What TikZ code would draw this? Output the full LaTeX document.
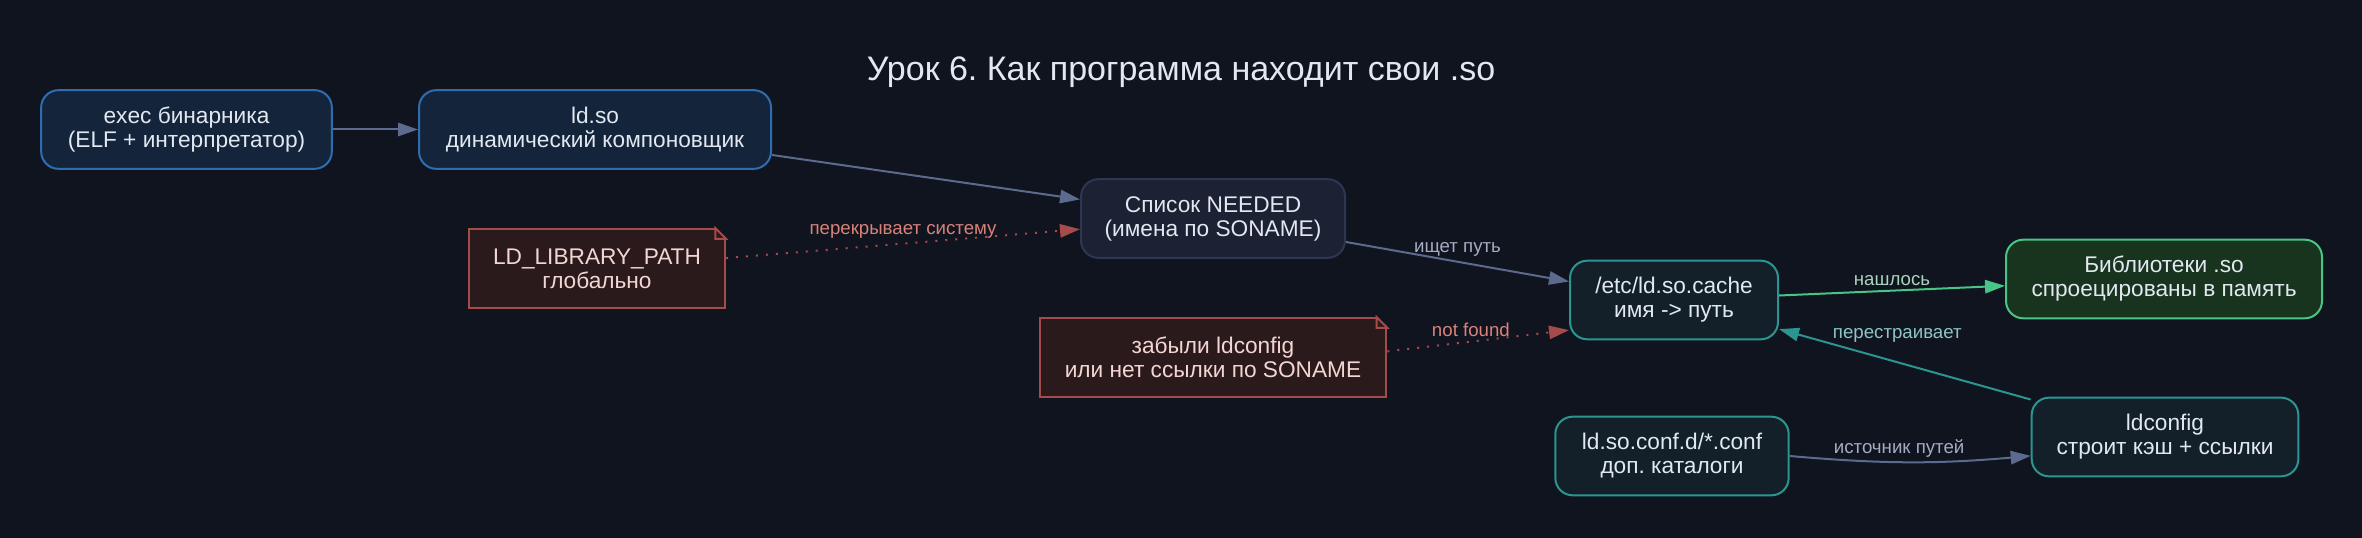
\documentclass[tikz,border=0pt]{standalone}
\usepackage{fontspec}
\setmainfont{Liberation Sans}
\usetikzlibrary{arrows.meta, positioning}
\frenchspacing

\definecolor{bg}{HTML}{10141F}
\definecolor{bluefill}{HTML}{14253B}
\definecolor{blueline}{HTML}{2F6DB0}
\definecolor{slatefill}{HTML}{1C2134}
\definecolor{slateline}{HTML}{2D3752}
\definecolor{redfill}{HTML}{2B1A1B}
\definecolor{redline}{HTML}{A54B4B}
\definecolor{tealfill}{HTML}{13202A}
\definecolor{tealline}{HTML}{2A9591}
\definecolor{greenfill}{HTML}{18341F}
\definecolor{greenline}{HTML}{48C586}
\definecolor{edgegray}{HTML}{5B6A8D}
\definecolor{textlight}{HTML}{E2E8F0}
\definecolor{notetext}{HTML}{F3D6D3}
\definecolor{labelgray}{HTML}{A3ACC0}
\definecolor{labelred}{HTML}{D9827A}
\definecolor{labelgreen}{HTML}{A9D3BE}
\definecolor{labelteal}{HTML}{8EC5C7}

\tikzset{
  box/.style={rounded corners=13pt, line width=1.5pt, minimum height=59pt, align=center,
    text=textlight, font=\fontsize{17}{18}\selectfont},
  bluebox/.style={box, draw=blueline, fill=bluefill},
  slatebox/.style={box, draw=slateline, fill=slatefill},
  tealbox/.style={box, draw=tealline, fill=tealfill},
  greenbox/.style={box, draw=greenline, fill=greenfill},
  notebox/.style={draw=redline, fill=redfill, line width=1.5pt, minimum height=59pt, align=center,
    text=notetext, font=\fontsize{17}{18}\selectfont},
  link/.style={-{Triangle[length=15pt,width=10pt]}, line width=1.5pt},
  lbl/.style={font=\fontsize{14}{15}\selectfont, inner sep=1pt},
}

% folded corner for note boxes
\newcommand{\notefold}[1]{%
  \fill[bg] ([xshift=-8pt,yshift=1pt]#1.north east) -- ([xshift=1pt,yshift=1pt]#1.north east)
    -- ([xshift=1pt,yshift=-8pt]#1.north east) -- cycle;
  \draw[redline, line width=1.5pt] ([xshift=-8pt]#1.north east) -- ([xshift=-8pt,yshift=-8pt]#1.north east)
    -- ([yshift=-8pt]#1.north east) -- cycle;}

\begin{document}
\begin{tikzpicture}[x=0.75pt, y=-0.75pt]
  \useasboundingbox (0,0) rectangle (2362,538);
  \fill[bg] (0,0) rectangle (2362,538);

  \node[text=textlight, font=\fontsize{25.5}{28}\selectfont] (title) at (1181,72) {Урок 6. Как программа находит свои .so};

  % main chain
  \node[bluebox, minimum width=218pt] (exec) at (186.5,129.5) {exec бинарника\\(ELF + интерпретатор)};
  \node[bluebox, minimum width=264pt] (ldso) at (595,129.5) {ld.so\\динамический компоновщик};
  \node[slatebox, minimum width=198pt] (needed) at (1213,218.5) {Список NEEDED\\(имена по SONAME)};
  \node[tealbox, minimum width=156pt] (cache) at (1674,300) {/etc/ld.so.cache\\имя -> путь};
  \node[greenbox, minimum width=237pt] (libs) at (2164,279) {Библиотеки .so\\спроецированы в память};
  \node[tealbox, minimum width=175pt] (conf) at (1672,456) {ld.so.conf.d/*.conf\\доп. каталоги};
  \node[tealbox, minimum width=200pt] (ldconfig) at (2165,437) {ldconfig\\строит кэш + ссылки};

  % notes
  \node[notebox, minimum width=192pt] (ldpath) at (597,268.5) {LD\_LIBRARY\_PATH\\глобально};
  \notefold{ldpath}
  \node[notebox, minimum width=260pt] (forgot) at (1213,357.5) {забыли ldconfig\\или нет ссылки по SONAME};
  \notefold{forgot}

  \draw[link, edgegray] (exec) -- (ldso);
  \draw[link, edgegray] (ldso) -- (needed);
  \draw[link, edgegray] (needed) -- node[lbl, text=labelgray, above=2pt] {ищет путь} (cache);
  \draw[link, greenline] (cache) -- node[lbl, text=labelgreen, above=2pt] {нашлось} (libs);
  \draw[link, tealline] (ldconfig) -- node[lbl, text=labelteal, pos=0.53, above=13pt] {перестраивает} (cache);
  \draw[link, edgegray] (conf.east) to[bend right=5] node[lbl, text=labelgray, pos=0.45, above=2pt] {источник путей} (ldconfig.188);
  \draw[link, redline, dash pattern=on 1.5pt off 6pt] (ldpath) -- node[lbl, text=labelred, above=2pt] {перекрывает систему} (needed);
  \draw[link, redline, dash pattern=on 1.5pt off 6pt] (forgot.2) -- node[lbl, text=labelred, pos=0.46, above=2pt] {not found} (cache.196);
\end{tikzpicture}
\end{document}
